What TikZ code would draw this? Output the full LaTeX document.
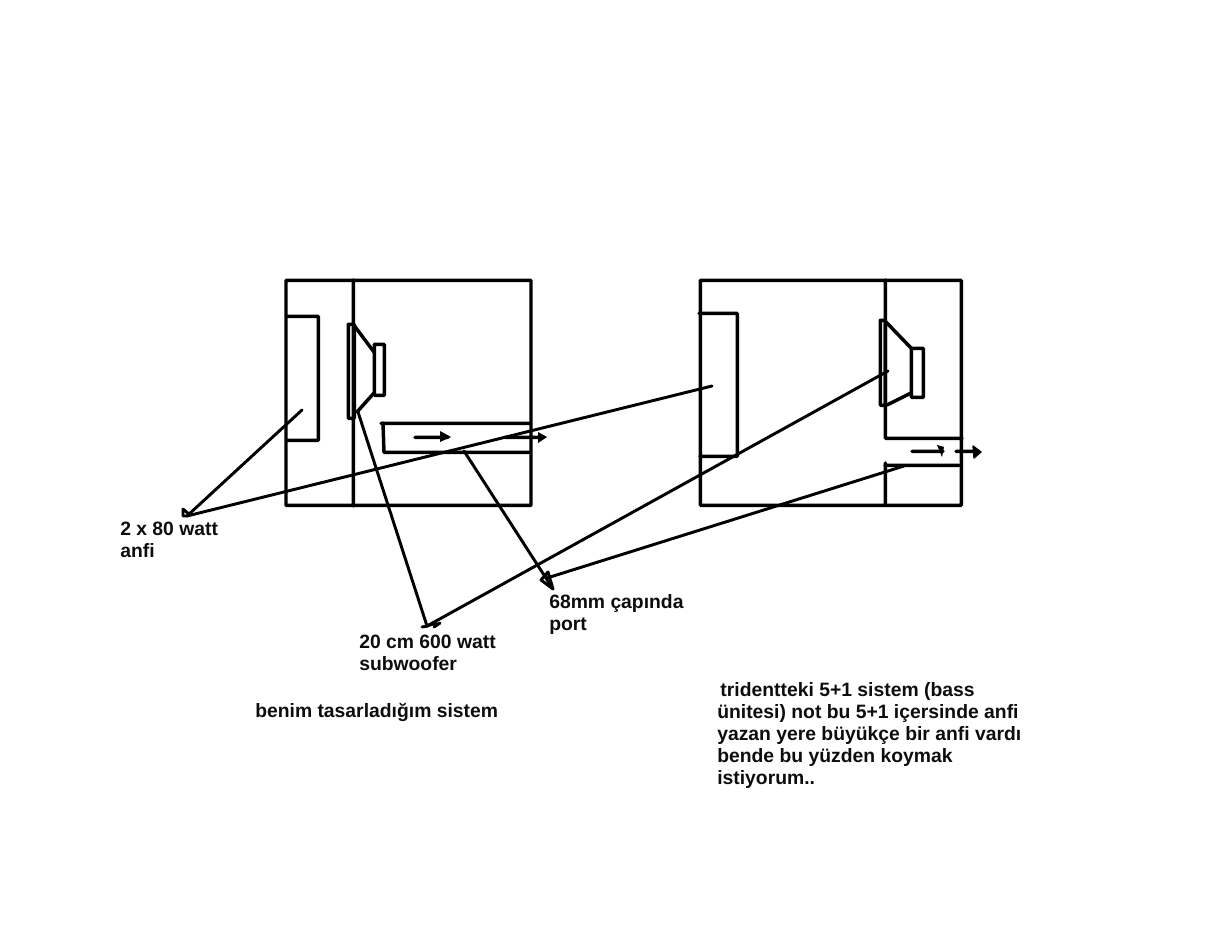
\documentclass[tikz,border=0pt]{standalone}
\usepackage{fontspec}
\setmainfont{Liberation Sans}
\begin{document}
\begin{tikzpicture}[x=0.75pt,y=-0.75pt,
  ink/.style={draw=black,line width=2.6pt,line cap=round,line join=round},
  leader/.style={draw=black,line width=2.2pt,line cap=round,line join=round},
  head/.style={fill=black,draw=black,line width=1pt,line join=round},
  lbl/.style={font=\fontsize{14.5pt}{16.5pt}\selectfont\bfseries,anchor=north west,inner sep=0pt,align=left,text=black!95}]
\useasboundingbox (0,0) rectangle (1218,952);
\fill[white] (0,0) rectangle (1218,952);
% left cabinet
\draw[ink] (286,280.3) -- (531,280.32) -- (531,505.3) -- (286,505.3) -- cycle;
\draw[ink] (353.3,280) -- (353.32,506);
\draw[ink] (287,316.3) -- (318.3,316.32) -- (318.3,440.3) -- (287,440.3);
\draw[ink] (348.3,324.3) -- (354.3,324.32) -- (354.3,418.3) -- (348.3,418.3) -- cycle;
\draw[ink] (353,324) -- (374,352);
\draw[ink] (357,412) -- (374,393);
\draw[ink] (374.3,344.3) -- (384.3,344.32) -- (384.3,395.3) -- (374.3,395.3) -- cycle;
\draw[ink] (381,423.3) -- (530,423.32);
\draw[ink] (383,423) -- (384,452.3) -- (530,452.3);
\draw[ink] (415,437.3) -- (448,437.32);
\fill[black] (440,431) -- (451,437) -- (440,442) -- cycle;
\draw[ink] (505,437.3) -- (543,437.32);
\fill[black] (538,432) -- (547,437) -- (538,443) -- cycle;
% right cabinet
\draw[ink] (700.3,280.3) -- (961.3,280.32) -- (961.3,505.3) -- (700.3,505.3) -- cycle;
\draw[ink] (885.3,280) -- (885.32,438.3) -- (962,438.3);
\draw[ink] (885.3,463) -- (885.32,505);
\draw[ink] (885,465.3) -- (959,465.32);
\draw[ink] (699,313.3) -- (737.3,313.32) -- (737.3,456.3) -- (700,456.3);
\draw[ink] (880.3,320.3) -- (885.3,320.32) -- (885.3,405.3) -- (880.3,405.3) -- cycle;
\draw[ink] (886,322) -- (911,348);
\draw[ink] (887,405) -- (911,393);
\draw[ink] (911.3,348.3) -- (923.3,348.32) -- (923.3,397.3) -- (911.3,397.3) -- cycle;
\draw[ink] (912,451.3) -- (943,451.32);
\fill[black] (937,445) -- (944,447) -- (942,457) -- cycle;
\draw[ink] (956,451.3) -- (978,451.32);
\draw[head] (973,446) -- (981,452) -- (974,458) -- cycle;
% tips
\coordinate (t1) at (187,516);
\coordinate (t2) at (427,626);
\coordinate (t3) at (547,578);
% leaders
\draw[leader] (302,410) -- (t1);
\draw[leader] (712,386) -- (t1);
\draw[leader] (183,509) -- (183,516) -- (t1) (183,509) -- (190,515);
\draw[leader] (358,412) -- (t2);
\draw[leader] (888,371) -- (t2);
\draw[leader] (422,627) -- (428,626) (434,627) -- (440,623) (436,623) -- (t2);
\draw[leader] (464,451) -- (553,589);
\draw[leader] (904,466) -- (t3);
\draw[leader] (541,580) -- (548,572) -- (553,589) -- cycle;
% labels
\node[lbl] (a) at (120,521.5) {2 x 80 watt\\anfi};
\node[lbl] (b) at (359,635) {20 cm 600 watt\\subwoofer};
\node[lbl] (c) at (549,594) {68mm çapında\\port};
\node[lbl] (d) at (255,703) {benim tasarladığım sistem};
\node[lbl] (e) at (717,682) {\,tridentteki 5+1 sistem (bass\\ünitesi) not bu 5+1 içersinde anfi\\yazan yere büyükçe bir anfi vardı\\bende bu yüzden koymak\\istiyorum..};
\end{tikzpicture}
\end{document}
